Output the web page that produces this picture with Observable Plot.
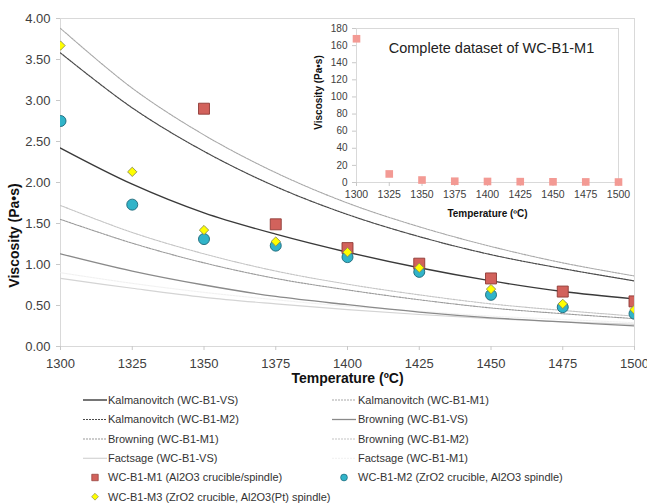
<!DOCTYPE html>
<html><head><meta charset="utf-8">
<script src="https://cdn.jsdelivr.net/npm/d3@7"></script>
<script src="https://cdn.jsdelivr.net/npm/@observablehq/plot@0.6"></script>
<style>
body{margin:0;background:#fff;font-family:"Liberation Sans",Arial,sans-serif;}
#wrap{position:relative;width:647px;height:503px;overflow:hidden;}
#inset{position:absolute;left:300px;top:17px;}
#legend{position:absolute;left:0;top:390px;}
svg{overflow:visible;}
</style></head><body>
<div id="wrap"><div id="main"></div><div id="inset"></div><div id="legend"></div></div>
<script>
// ---- data ----
const temps = [1300, 1325, 1350, 1375, 1400, 1425, 1450, 1475, 1500];
const xTicks = [1300, 1325, 1350, 1375, 1400, 1425, 1450, 1475, 1500];
const yTicks = [0, 0.5, 1, 1.5, 2, 2.5, 3, 3.5, 4];
const insetYTicks = [0, 20, 40, 60, 80, 100, 120, 140, 160, 180];

const kalmanovitchVS = [2.42, 1.98, 1.63, 1.37, 1.15, 0.96, 0.80, 0.67, 0.58];
const kalmanovitchM1 = [3.88, 3.15, 2.58, 2.12, 1.75, 1.46, 1.22, 1.02, 0.86];
const kalmanovitchM2 = [3.58, 2.91, 2.38, 1.95, 1.61, 1.34, 1.12, 0.95, 0.80];
const browningVS = [1.13, 0.92, 0.75, 0.61, 0.51, 0.42, 0.35, 0.30, 0.25];
const browningM1 = [1.55, 1.26, 1.02, 0.83, 0.69, 0.57, 0.47, 0.40, 0.34];
const browningM2 = [1.72, 1.39, 1.13, 0.92, 0.76, 0.63, 0.52, 0.44, 0.37];
const factsageVS = [0.83, 0.71, 0.60, 0.52, 0.45, 0.39, 0.34, 0.30, 0.27];
const factsageM1 = [0.90, 0.77, 0.66, 0.57, 0.49, 0.43, 0.37, 0.33, 0.29];

const wcB1M1 = [168, 10, 2.90, 1.49, 1.20, 1.01, 0.83, 0.67, 0.55];
const wcB1M2 = [2.75, 1.73, 1.31, 1.23, 1.09, 0.91, 0.63, 0.48, 0.40];
const wcB1M3 = [3.67, 2.13, 1.42, 1.28, 1.15, 0.96, 0.70, 0.52, 0.45];

// ---- styles ----
const curveDefs = [
  {name: "Kalmanovitch (WC-B1-VS)", values: kalmanovitchVS, stroke: "#3a3a3a", dash: null, w: 1.4},
  {name: "Kalmanovitch (WC-B1-M1)", values: kalmanovitchM1, stroke: "#a8a8a8", dash: "2,1", w: 1.1},
  {name: "Kalmanovitch (WC-B1-M2)", values: kalmanovitchM2, stroke: "#4a4a4a", dash: "2,1", w: 1.2},
  {name: "Browning (WC-B1-VS)", values: browningVS, stroke: "#8a8a8a", dash: null, w: 1.3},
  {name: "Browning (WC-B1-M1)", values: browningM1, stroke: "#9a9a9a", dash: "2,1", w: 1.1},
  {name: "Browning (WC-B1-M2)", values: browningM2, stroke: "#c4c4c4", dash: "2,1", w: 1.1},
  {name: "Factsage (WC-B1-VS)", values: factsageVS, stroke: "#d4d4d4", dash: null, w: 1.2},
  {name: "Factsage (WC-B1-M1)", values: factsageM1, stroke: "#f0f0f0", dash: "2,1", w: 1}
];
const pointDefs = [
  {name: "WC-B1-M1 (Al2O3 crucible/spindle)", values: wcB1M1, symbol: "square", fill: "#d2625c", stroke: "#8f3b37", r: 6.2},
  {name: "WC-B1-M2 (ZrO2 crucible, Al2O3 spindle)", values: wcB1M2, symbol: "circle", fill: "#31b4c9", stroke: "#1d6677", r: 5.5},
  {name: "WC-B1-M3 (ZrO2 crucible, Al2O3(Pt) spindle)", values: wcB1M3, symbol: "diamond2", fill: "#ffff00", stroke: "#8c8c50", r: 4.2}
];

const rows = (vals) => temps.map((t, i) => ({T: t, v: vals[i]}));
const font = '"Liberation Sans", Arial, sans-serif';

// ---- main chart ----
const main = Plot.plot({
  width: 647, height: 390,
  marginLeft: 60, marginRight: 13, marginTop: 18, marginBottom: 44,
  style: {fontFamily: font, fontSize: "13px", color: "#404040", background: "transparent"},
  x: {domain: [1300, 1500], label: null},
  y: {domain: [0, 4], label: null},
  marks: [
    Plot.frame({stroke: "#d9d9d9"}),
    Plot.axisX({ticks: xTicks, tickFormat: d => String(d), tickSize: 4, tickPadding: 8, stroke: "#c8c8c8", fontSize: 13, label: null}),
    Plot.axisY({ticks: yTicks, tickFormat: d => d.toFixed(2), tickSize: 4, tickPadding: 6, stroke: "#c8c8c8", fontSize: 13, label: null}),
    ...curveDefs.slice().reverse().map(c => Plot.line(rows(c.values), {
      x: "T", y: "v", stroke: c.stroke, strokeWidth: c.w, strokeDasharray: c.dash, curve: "catmull-rom", clip: true
    })),
    ...pointDefs.map(p => Plot.dot(rows(p.values), {
      x: "T", y: "v", symbol: p.symbol, fill: p.fill, stroke: p.stroke, strokeWidth: 0.9, r: p.r, clip: true
    })),
    Plot.text(["Temperature (ºC)"], {frameAnchor: "bottom", lineAnchor: "middle", textAnchor: "middle", dy: 32, fontWeight: "bold", fontSize: 14, fill: "#111"}),
    Plot.text(["Viscosity (Pa•s)"], {frameAnchor: "left", textAnchor: "middle", lineAnchor: "middle", dx: -46, dy: 53, rotate: -90, fontWeight: "bold", fontSize: 14, fill: "#111"})
  ]
});
document.getElementById("main").append(main);

// ---- inset ----
const inset = Plot.plot({
  width: 334, height: 207,
  marginLeft: 56, marginRight: 16, marginTop: 11, marginBottom: 42,
  style: {fontFamily: font, fontSize: "10px", color: "#404040", background: "transparent"},
  x: {domain: [1300, 1500], label: null},
  y: {domain: [0, 180], label: null},
  marks: [
    Plot.frame({stroke: "#d9d9d9"}),
    Plot.axisX({ticks: xTicks, tickFormat: d => String(d), tickSize: 4, tickPadding: 4, stroke: "#c8c8c8", fontSize: 10.5, label: null}),
    Plot.axisY({ticks: insetYTicks, tickSize: 4, tickPadding: 5, stroke: "#c8c8c8", fontSize: 10, label: null}),
    Plot.dot(rows(wcB1M1), {x: "T", y: "v", symbol: "square", fill: "#f39a94", r: 4.3}),
    Plot.text(["Complete dataset of WC-B1-M1"], {frameAnchor: "top", lineAnchor: "middle", dx: 4, dy: 20, fontSize: 14.5, fill: "#222"}),
    Plot.text(["Temperature (ºC)"], {frameAnchor: "bottom", lineAnchor: "middle", dy: 31, fontWeight: "bold", fontSize: 10, fill: "#111"}),
    Plot.text(["Viscosity (Pa•s)"], {frameAnchor: "left", textAnchor: "middle", lineAnchor: "middle", dx: -38, dy: -13, rotate: -90, fontWeight: "bold", fontSize: 10, fill: "#111"})
  ]
});
document.getElementById("inset").append(inset);

// ---- legend ----
const leftCol = [curveDefs[0], curveDefs[2], curveDefs[4], curveDefs[6], pointDefs[0], pointDefs[2]];
const rightCol = [curveDefs[1], curveDefs[3], curveDefs[5], curveDefs[7], pointDefs[1]];
const rowY = [10, 29.5, 49, 68.3, 87.5, 106.7];
const lg = d3.select("#legend").append("svg").attr("width", 647).attr("height", 113)
  .style("font-family", font).style("font-size", "11px");
function addItem(item, x0, x1, tx, y) {
  const g = lg.append("g");
  if (item.symbol) {
    const cx = (x0 + x1) / 2;
    const sym = {square: d3.symbolSquare, circle: d3.symbolCircle, diamond2: d3.symbolDiamond2}[item.symbol];
    const size = item.symbol === "square" ? 42 : item.symbol === "circle" ? 36 : 30;
    g.append("path").attr("d", d3.symbol(sym, size)()).attr("transform", `translate(${cx},${y})`)
      .attr("fill", item.fill).attr("stroke", item.stroke).attr("stroke-width", 0.7);
  } else {
    g.append("line").attr("x1", x0).attr("x2", x1).attr("y1", y).attr("y2", y)
      .attr("stroke", item.stroke).attr("stroke-width", item.w).attr("stroke-dasharray", item.dash);
  }
  g.append("text").attr("x", tx).attr("y", y).attr("dy", "0.35em").attr("fill", "#333").text(item.name);
}
leftCol.forEach((it, i) => addItem(it, 83, 107, 108, rowY[i]));
rightCol.forEach((it, i) => addItem(it, 332, 356, 358, rowY[i]));
</script>
</body></html>
